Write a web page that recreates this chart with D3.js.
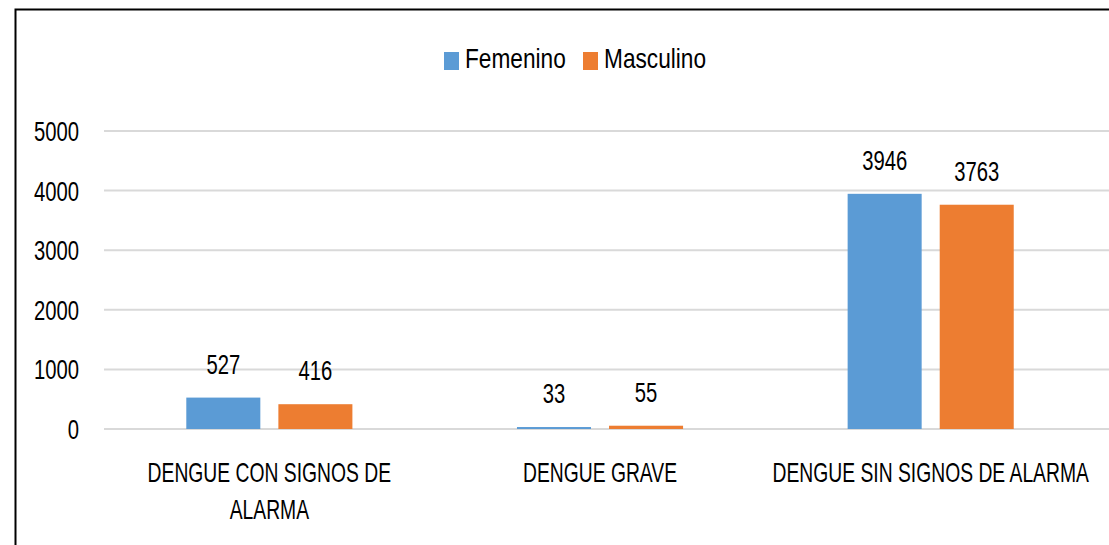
<!DOCTYPE html>
<html><head><meta charset="utf-8">
<script src="https://cdn.jsdelivr.net/npm/d3@7"></script>
<style>
body{margin:0;background:#fff;}
text{font-family:"Liberation Sans",Arial,sans-serif;fill:#000;}
</style></head>
<body><svg id="c" width="1109" height="545"></svg>
<script>
const categories = ["DENGUE CON SIGNOS DE ALARMA", "DENGUE GRAVE", "DENGUE SIN SIGNOS DE ALARMA"];
const categoryLines = [["DENGUE CON SIGNOS DE", "ALARMA"], ["DENGUE GRAVE"], ["DENGUE SIN SIGNOS DE ALARMA"]];
const seriesNames = ["Femenino", "Masculino"];
const femenino = [527, 33, 3946];
const masculino = [416, 55, 3763];
const yTicks = [0, 1000, 2000, 3000, 4000, 5000];
const colors = ["#5B9BD5", "#ED7D31"];

const FS = 27;
function label(parent, x, y, str, anchor, sx){
  return parent.append("text")
    .attr("transform", `translate(${x},${y}) scale(${sx},1)`)
    .attr("text-anchor", anchor || "start").attr("font-size", FS).text(str);
}

const svg = d3.select("#c");
svg.append("rect").attr("x",0).attr("y",0).attr("width",1109).attr("height",545).attr("fill","#fff");
svg.append("path").attr("d","M15.5,560 V9.5 H1120").attr("fill","none").attr("stroke","#000").attr("stroke-width",2);

const x0 = d3.scaleBand().domain(categories).range([104, 1096]).paddingInner(0).paddingOuter(0);
const x1 = d3.scaleBand().domain(seriesNames).range([82.3, 330.7-82.3]).paddingInner(0.196);
const y = d3.scaleLinear().domain([0, 5000]).range([429, 131]);

svg.append("g").selectAll("line").data(yTicks).join("line")
  .attr("x1",104).attr("x2",1109).attr("y1",d=>y(d)).attr("y2",d=>y(d))
  .attr("stroke","#D9D9D9").attr("stroke-width",2);

const ya = svg.append("g");
yTicks.forEach(d=>label(ya, 79, y(d)+10, d, "end", 0.75));

const data = categories.map((c,i)=>({cat:c, vals:[femenino[i], masculino[i]]}));
const g = svg.append("g").selectAll("g").data(data).join("g")
  .attr("transform",d=>`translate(${x0(d.cat)},0)`);
g.selectAll("rect").data(d=>d.vals.map((v,j)=>({s:seriesNames[j], v, j}))).join("rect")
  .attr("x",d=>x1(d.s)).attr("width",x1.bandwidth())
  .attr("y",d=>y(d.v)).attr("height",d=>y(0)-y(d.v)).attr("fill",d=>colors[d.j]);
g.each(function(d){
  const gg = d3.select(this);
  d.vals.forEach((v,j)=>label(gg, x1(seriesNames[j])+x1.bandwidth()/2, y(v)-24, v, "middle", 0.75));
});

const ca = svg.append("g");
categories.forEach((c,i)=>{
  categoryLines[i].forEach((ln,k)=>label(ca, x0(c)+x0.bandwidth()/2, 482 + k*37, ln, "middle", 0.715));
});

const leg = svg.append("g");
const legX = [444, 583];
seriesNames.forEach((s,i)=>{
  leg.append("rect").attr("x",legX[i]).attr("y",52).attr("width",15).attr("height",18).attr("fill",colors[i]);
  label(leg, legX[i]+21, 68, s, "start", 0.84);
});
</script></body></html>
